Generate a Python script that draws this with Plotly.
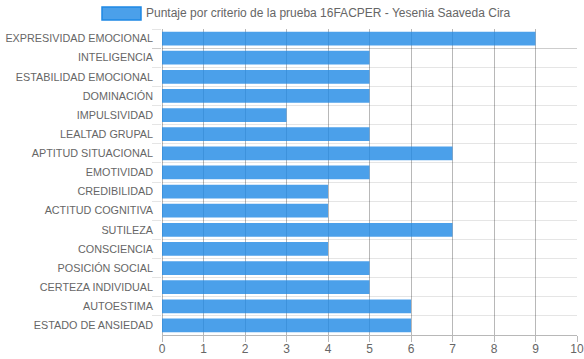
import plotly.graph_objects as go

categories = [
    "EXPRESIVIDAD EMOCIONAL", "INTELIGENCIA", "ESTABILIDAD EMOCIONAL", "DOMINACIÓN",
    "IMPULSIVIDAD", "LEALTAD GRUPAL", "APTITUD SITUACIONAL", "EMOTIVIDAD",
    "CREDIBILIDAD", "ACTITUD COGNITIVA", "SUTILEZA", "CONSCIENCIA",
    "POSICIÓN SOCIAL", "CERTEZA INDIVIDUAL", "AUTOESTIMA", "ESTADO DE ANSIEDAD",
]
scores = [9, 5, 5, 5, 3, 5, 7, 5, 4, 4, 7, 4, 5, 5, 6, 6]
series_name = "Puntaje por criterio de la prueba 16FACPER - Yesenia Saaveda Cira"
x_ticks = list(range(0, 11))

W, H = 584, 359
L, R, T, B = 162, 7, 29, 24
pw, ph = W - L - R, H - T - B

def px(x):
    return (x - L) / pw

def py(y):
    return (H - B - y) / ph

font = "Liberation Sans, Arial, Helvetica, sans-serif"
grey = "#666666"

fig = go.Figure(go.Bar(
    x=scores, y=categories, orientation="h",
    name=series_name,
    marker=dict(color="rgba(30,136,229,0.8)", line=dict(width=0)),
    showlegend=False,
))

fig.update_layout(
    width=W, height=H,
    margin=dict(l=L, r=R, t=T, b=B, pad=0, autoexpand=False),
    paper_bgcolor="white", plot_bgcolor="white",
    bargap=0.28,
    font=dict(family=font, size=12, color=grey),
    xaxis=dict(
        range=[0, 10], tickvals=x_ticks, ticktext=[str(v) for v in x_ticks],
        automargin=False,
        showgrid=True, gridcolor="rgba(0,0,0,0.28)", gridwidth=1,
        zeroline=True, zerolinecolor="rgba(0,0,0,0.28)", zerolinewidth=1,
        showline=True, linecolor="rgba(0,0,0,0.28)", linewidth=1,
        ticks="outside", ticklen=6, tickcolor="rgba(0,0,0,0.28)",
        ticklabelstandoff=-3,
        tickfont=dict(size=12, color=grey), fixedrange=True,
    ),
    yaxis=dict(
        type="category", categoryorder="array", categoryarray=categories,
        autorange="reversed", tickson="boundaries", automargin=False,
        showgrid=True, gridcolor="rgba(0,0,0,0.1)", gridwidth=1,
        ticks="outside", ticklen=9, tickcolor="rgba(0,0,0,0.1)",
        ticklabelstandoff=8,
        tickfont=dict(size=10.8, color=grey), fixedrange=True,
    ),
    shapes=[dict(
        type="rect", xref="paper", yref="paper",
        x0=px(102), x1=px(141), y0=py(20), y1=py(7),
        fillcolor="rgba(30,136,229,0.8)", line=dict(color="rgb(30,136,229)", width=1.5),
    )],
    annotations=[dict(
        text=series_name, xref="paper", yref="paper",
        x=px(143.5), y=py(13.5), xanchor="left", yanchor="middle",
        showarrow=False, font=dict(size=12, color=grey, family=font),
    )],
)

fig.write_html(
    "out.html",
    config={"displayModeBar": False},
    post_script="document.body.style.margin='0px';document.body.style.overflow='hidden';",
)
